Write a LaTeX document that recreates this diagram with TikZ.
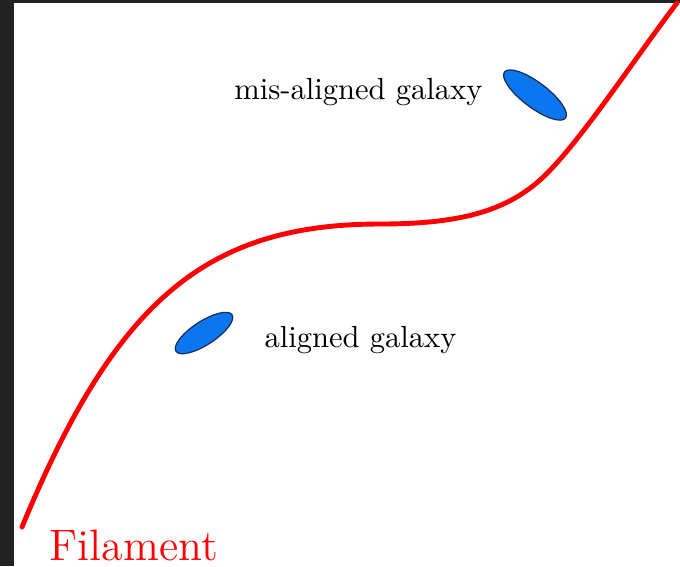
\documentclass[tikz,border=0pt]{standalone}
\usepackage{tikz}
\usetikzlibrary{shapes.geometric}

\definecolor{frame}{RGB}{34,34,34}
\definecolor{galblue}{RGB}{12,118,238}
\definecolor{galedge}{RGB}{20,45,90}

\begin{document}
\begin{tikzpicture}[x=0.0115cm,y=-0.0115cm,
  filament/.style={red,line width=1.6pt,line cap=round},
  galaxy/.style={ellipse,draw=galedge,fill=galblue,thin,inner sep=0pt}]

% ---- page and screenshot frame ----
\useasboundingbox (0,0) rectangle (680,566);
\fill[white] (0,0) rectangle (680,566);
\fill[frame] (0,0) rectangle (14,566);
\fill[frame] (0,0) rectangle (680,3);

% ---- Filament ----
\coordinate (fstart) at (22,527);
\coordinate (fmid) at (380,224);
\coordinate (fbend) at (540,180);
\coordinate (fend) at (677,3);
\draw[filament] (fstart) .. controls (115,302) and (205,224) .. (fmid)
  .. controls (460,224) and (505,211) .. (fbend)
  .. controls (577,147) and (637,55) .. (fend);
\node[red,font=\Large,anchor=base west,inner sep=0pt] (filament) at (49,560) {Filament};

% ---- Galaxies ----
\node[galaxy,minimum width=0.77cm,minimum height=0.27cm,rotate=33] (aligned) at (204,333) {};
\node[galaxy,minimum width=0.88cm,minimum height=0.29cm,rotate=-37] (misaligned) at (535,95) {};

% ---- Labels ----
\node[anchor=west,inner sep=0pt] (alabel) at (264,340) {aligned galaxy};
\node[anchor=east,inner sep=0pt] (mlabel) at (483,92) {mis-aligned galaxy};

\end{tikzpicture}
\end{document}
